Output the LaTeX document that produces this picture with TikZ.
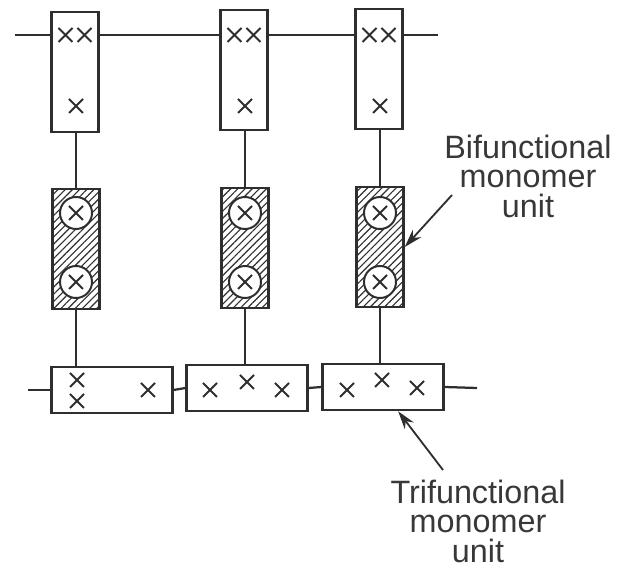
\documentclass[tikz,border=0pt]{standalone}
\usepackage{fontspec}
\setmainfont{Liberation Sans}
\usepackage{tikz}
\usetikzlibrary{arrows.meta, positioning, calc, patterns.meta}
\definecolor{inkgray}{HTML}{2E2E2E}
\definecolor{textgray}{HTML}{383838}

\begin{document}
\begin{tikzpicture}[
    x=0.025cm, y=-0.025cm,
    every path/.style={color=inkgray, line width=1.6pt},
    unitbox/.style={draw, rectangle, line width=1.6pt, inner sep=0pt},
    upright/.style={unitbox, minimum width=1.18cm, minimum height=3.0cm},
    lying/.style={unitbox, minimum width=3.02cm, minimum height=1.16cm},
    hatched/.style={unitbox, minimum width=1.18cm, minimum height=3.0cm,
                    pattern={Lines[angle=45, distance=3.6pt, line width=0.8pt]},
                    pattern color=inkgray},
    ring/.style={draw, circle, fill=white, line width=1.4pt, minimum size=0.8cm, inner sep=0pt},
    label/.style={align=center, text=textgray, font=\fontsize{23}{21}\selectfont},
    pointer/.style={-{Stealth[length=13pt, width=8pt]}, line width=1.3pt},
    xmark/.pic={\draw[line width=1.3pt] (-7,-7) -- (7,7) (-7,7) -- (7,-7);},
  ]
    \useasboundingbox (0,0) rectangle (621,577);

    % chains
    \coordinate (tl) at (15,35);
    \coordinate (tr) at (438,35);
    \coordinate (bl) at (28,390);
    \coordinate (br) at (477,388);

    % top units
    \node[upright] (t1) at (75,72)  {};
    \node[upright] (t2) at (244,70) {};
    \node[upright] (t3) at (379,69) {};

    % bifunctional units
    \node[hatched] (h1) at (76,249)  {};
    \node[hatched] (h2) at (245,248) {};
    \node[hatched] (h3) at (380,247) {};

    % trifunctional units
    \node[lying] (b1) at (112,390) {};
    \node[lying] (b2) at (247,388) {};
    \node[lying] (b3) at (383,387) {};

    % top chain
    \draw (tl) -- (tl -| t1.west);
    \draw (t1.east |- tl) -- (t2.west |- tl);
    \draw (t2.east |- tl) -- (t3.west |- tl);
    \draw (t3.east |- tr) -- (tr);

    % bottom chain
    \draw (bl) -- (bl -| b1.west);
    \draw (b1.east) -- (b2.west);
    \draw (b2.east) -- (b3.west);
    \draw (b3.east) -- (br);

    % cross links
    \foreach \i in {1,2,3} {
      \draw (h\i.north) -- (h\i.north |- t\i.south);
      \draw (h\i.south) -- (h\i.south |- b\i.north);
    }

    % crosses in top units
    \foreach \cx in {75,244,379} {
      \pic at (\cx-9.5,35) {xmark};
      \pic at (\cx+9.5,35) {xmark};
      \pic at (\cx+1,106) {xmark};
    }

    % rings in bifunctional units
    \foreach \i/\cx in {1/76,2/245,3/380} {
      \node[ring] (r\i a) at (\cx,213) {};
      \node[ring] (r\i b) at (\cx,282) {};
      \pic at (r\i a) {xmark};
      \pic at (r\i b) {xmark};
    }

    % crosses in trifunctional units
    \pic at (77,380) {xmark};
    \pic at (77,401) {xmark};
    \pic at (148,390) {xmark};
    \pic at (210,390) {xmark};
    \pic at (247,382) {xmark};
    \pic at (282,390) {xmark};
    \pic at (347,390) {xmark};
    \pic at (382,380) {xmark};
    \pic at (417,388) {xmark};

    % labels
    \node[label] (bilbl) at (528,176) {Bifunctional\\monomer\\unit};
    \node[label] (trilbl) at (478,521) {Trifunctional\\monomer\\unit};

    \coordinate (bitail) at (452,195);
    \coordinate (tritail) at (443,470);
    \draw[pointer] (bitail) -- (h3.east);
    \draw[pointer] (tritail) -- ([xshift=0.38cm]b3.south);
  \end{tikzpicture}
\end{document}
